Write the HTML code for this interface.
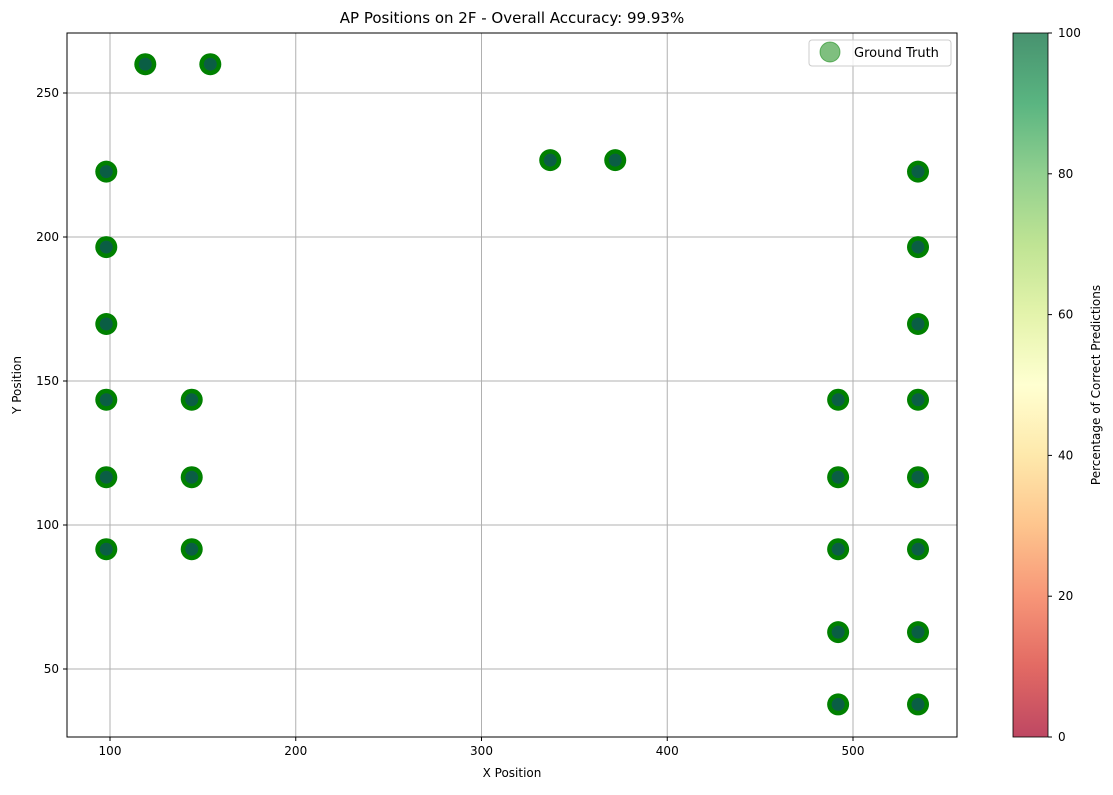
<!DOCTYPE html>
<html><head><meta charset="utf-8"><style>
body{margin:0;background:#fff;font-family:"Liberation Sans","DejaVu Sans",sans-serif;}
svg text{font-family:"DejaVu Sans","Liberation Sans",sans-serif;}
</style></head><body>
<svg id="c" width="1113" height="790">
<defs>
<linearGradient id="rdylgn" x1="0" y1="1" x2="0" y2="0">
<stop offset="0" stop-color="#a50026"/><stop offset="0.1" stop-color="#d73027"/><stop offset="0.2" stop-color="#f46d43"/><stop offset="0.3" stop-color="#fdae61"/><stop offset="0.4" stop-color="#fee08b"/><stop offset="0.5" stop-color="#ffffbf"/><stop offset="0.6" stop-color="#d9ef8b"/><stop offset="0.7" stop-color="#a6d96a"/><stop offset="0.8" stop-color="#66bd63"/><stop offset="0.9" stop-color="#1a9850"/><stop offset="1" stop-color="#006837"/>
</linearGradient>
</defs>
<text x="512" y="23" text-anchor="middle" font-size="15">AP Positions on 2F - Overall Accuracy: 99.93%</text>
<g id="grid"></g>
<g id="pts"></g>
<rect x="67" y="33" width="890" height="704" fill="none" stroke="#000" stroke-width="1"/>
<g id="axes"></g>
<text x="512" y="777" text-anchor="middle" font-size="12">X Position</text>
<text transform="translate(21,385) rotate(-90)" text-anchor="middle" font-size="12">Y Position</text>
<g>
<rect x="809" y="40" width="142" height="26" rx="3" fill="#fff" stroke="#ccc" fill-opacity="0.8"/>
<circle cx="830" cy="52" r="10" fill="#008000" fill-opacity="0.5" stroke="#008000" stroke-opacity="0.5"/>
<text x="854" y="57" font-size="13">Ground Truth</text>
</g>
<rect x="1013" y="33" width="35" height="704" fill="url(#rdylgn)" opacity="0.72"/>
<rect x="1013" y="33" width="35" height="704" fill="none" stroke="#000" stroke-width="0.8"/>
<g id="cbticks"></g>
<text transform="translate(1100,385) rotate(-90)" text-anchor="middle" font-size="12">Percentage of Correct Predictions</text>
</svg>
<script>
const xTicks=[100,200,300,400,500];
const yTicks=[50,100,150,200,250];
const cbTicks=[0,20,40,60,80,100];
const apX=[119,154,98,98,98,98,98,98,144,144,144,337,372,535,535,535,535,535,535,535,535,492,492,492,492,492];
const apY=[260,260,222.7,196.5,169.8,143.5,116.6,91.6,143.5,116.6,91.6,226.7,226.7,222.7,196.5,169.8,143.5,116.6,91.6,62.8,37.7,143.5,116.6,91.6,62.8,37.7];
const X=v=>110+(v-100)*1.8575, Y=v=>525-(v-100)*2.88, CB=v=>737-v*7.04;
const NS="http://www.w3.org/2000/svg";
function mk(t,a,p){const e=document.createElementNS(NS,t);for(const k in a)e.setAttribute(k,a[k]);p.appendChild(e);return e;}
const g=document.getElementById('grid'),ax=document.getElementById('axes'),pts=document.getElementById('pts'),cb=document.getElementById('cbticks');
xTicks.forEach(v=>{const x=X(v);
const l=mk('line',{x1:x,x2:x,y1:33,y2:737,stroke:'#b0b0b0','stroke-width':1},g);


mk('line',{x1:x,x2:x,y1:737,y2:741,stroke:'#000'},ax);
const t=mk('text',{x:x,y:755,'text-anchor':'middle','font-size':12},ax);t.textContent=v;

});
yTicks.forEach(v=>{const y=Y(v);
const l=mk('line',{x1:67,x2:957,y1:y,y2:y,stroke:'#b0b0b0','stroke-width':1},g);


mk('line',{x1:63,x2:67,y1:y,y2:y,stroke:'#000'},ax);
const t=mk('text',{x:59,y:y+4,'text-anchor':'end','font-size':12},ax);t.textContent=v;

});
cbTicks.forEach(v=>{const y=CB(v);
mk('line',{x1:1048,x2:1052,y1:y,y2:y,stroke:'#000'},cb);
const t=mk('text',{x:1058,y:y+4,'font-size':12},cb);t.textContent=v;

});
apX.forEach((xv,i)=>{const x=X(xv),y=Y(apY[i]);
const c=mk('circle',{cx:x,cy:y,r:11,fill:'#008000'},pts);


const c2=mk('circle',{cx:x,cy:y,r:6.5,fill:'#0a5e44'},pts);

});
</script>
</body></html>
